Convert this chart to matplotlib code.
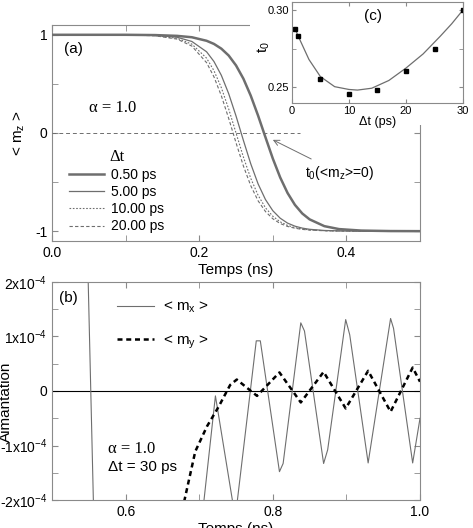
import matplotlib
matplotlib.use("Agg")
import matplotlib.pyplot as plt
from matplotlib.patches import Rectangle
from matplotlib.ticker import MultipleLocator

plt.rcParams.update({
    "font.family": "sans-serif",
    "font.sans-serif": ["Liberation Sans", "DejaVu Sans"],
    "mathtext.fontset": "custom",
    "mathtext.rm": "Liberation Sans",
    "mathtext.it": "Liberation Sans:italic",
    "font.size": 10,
    "axes.edgecolor": "#8a8a8a",
    "xtick.color": "#8a8a8a",
    "ytick.color": "#8a8a8a",
    "xtick.labelcolor": "black",
    "ytick.labelcolor": "black",
    "xtick.direction": "in",
    "ytick.direction": "in",
    "xtick.top": True,
    "ytick.right": True,
})

# ---- panel (a): <m_z> vs time for several time steps ----
t_a = [0, 0.10, 0.14, 0.17, 0.19, 0.21, 0.22, 0.23, 0.24, 0.25, 0.26, 0.27, 0.28,
       0.29, 0.30, 0.31, 0.32, 0.33, 0.34, 0.35, 0.37, 0.39, 0.42, 0.46, 0.50]
mz_050 = [1.0, 1.0, 0.997, 0.989, 0.975, 0.939, 0.907, 0.859, 0.789, 0.688, 0.553, 0.380, 0.176,
          -0.044, -0.261, -0.453, -0.611, -0.732, -0.820, -0.880, -0.949, -0.979, -0.994, -0.999, -1.0]
mz_500 = [1.0, 0.999, 0.994, 0.975, 0.932, 0.827, 0.728, 0.588, 0.401, 0.173, -0.075, -0.314, -0.519,
          -0.678, -0.792, -0.868, -0.918, -0.949, -0.969, -0.981, -0.993, -0.997, -1.0, -1.0, -1.0]
mz_1000 = [1.0, 0.999, 0.992, 0.964, 0.905, 0.762, 0.635, 0.462, 0.245, 0.0, -0.245, -0.462, -0.635,
           -0.762, -0.848, -0.905, -0.941, -0.964, -0.978, -0.987, -0.995, -0.998, -1.0, -1.0, -1.0]
mz_2000 = [1.0, 0.999, 0.990, 0.956, 0.885, 0.716, 0.572, 0.380, 0.149, -0.100, -0.336, -0.537, -0.691,
           -0.800, -0.874, -0.922, -0.952, -0.970, -0.982, -0.989, -0.996, -0.998, -1.0, -1.0, -1.0]

# ---- panel (c): t0 vs dt ----
dt_pts = [0.5, 1, 5, 10, 15, 20, 25, 30]
t0_pts = [0.2877, 0.2831, 0.2552, 0.2455, 0.2481, 0.2604, 0.2751, 0.300]
dt_fit = [0.5, 1, 2, 3, 5, 7.5, 10, 11.5, 14, 17, 20, 23, 26, 28, 30]
t0_fit = [0.2885, 0.284, 0.276, 0.268, 0.257, 0.2505, 0.2487, 0.2483, 0.2495, 0.2545,
          0.2625, 0.2716, 0.283, 0.291, 0.300]

# ---- panel (b): transverse components ----
mx_t = [0.5488, 0.5565, 0.63, 0.700, 0.722, 0.749, 0.7775, 0.783, 0.809, 0.814, 0.838, 0.843,
        0.869, 0.8745, 0.899, 0.9045, 0.9295, 0.960, 0.964, 0.990, 1.0]
mx = [2.2e-4, -2.2e-4, -6e-4, -2.8e-4, -0.09e-4, -2.33e-4, 0.92e-4, 0.92e-4, -1.48e-4, -1.33e-4,
      1.25e-4, 1.10e-4, -1.33e-4, -1.08e-4, 1.31e-4, 1.03e-4, -1.32e-4, 1.33e-4, 1.15e-4,
      -1.32e-4, -0.5e-4]
my_t = [0.672, 0.680, 0.6946, 0.7105, 0.7263, 0.742, 0.751, 0.7785, 0.809, 0.838, 0.869,
        0.899, 0.9295, 0.960, 0.990, 1.0]
my = [-2.5e-4, -2.0e-4, -1.11e-4, -0.65e-4, -0.29e-4, 0.11e-4, 0.21e-4, -0.09e-4, 0.34e-4,
      -0.21e-4, 0.35e-4, -0.32e-4, 0.37e-4, -0.38e-4, 0.43e-4, 0.17e-4]

b_yticks = [-2e-4, -1e-4, 0, 1e-4, 2e-4]
b_yticklabels = ["-2x10$^{-4}$", "-1x10$^{-4}$", "0", "1x10$^{-4}$", "2x10$^{-4}$"]

gray = "#6e6e6e"
serif = ["Liberation Serif", "DejaVu Serif"]

fig = plt.figure(figsize=(4.73, 5.28), dpi=100)
ax_a = fig.add_axes([0.110, 0.5436, 0.778, 0.4091])
ax_b = fig.add_axes([0.110, 0.053, 0.778, 0.413])
ax_c = fig.add_axes([0.617, 0.805, 0.362, 0.191], zorder=3)

# white box behind the inset: hides the frame of (a) there but not its curves
ax_a.add_patch(Rectangle((0.529, 0.763), 0.471, 0.237, transform=fig.transFigure,
                         facecolor="white", edgecolor="none", zorder=2.7, clip_on=False))

# panel (a)
ax_a.plot(t_a, mz_050, color=gray, lw=1.8, label="0.50 ps", zorder=3)
ax_a.plot(t_a, mz_500, color=gray, lw=0.9, label="5.00 ps", zorder=3)
ax_a.plot(t_a, mz_1000, color=gray, lw=0.8, ls=(0, (1.5, 1.5)), label="10.00 ps", zorder=3)
ax_a.plot(t_a, mz_2000, color=gray, lw=0.8, ls=(0, (3, 2)), label="20.00 ps", zorder=3)
ax_a.plot([0, 0.337], [0, 0], color=gray, lw=0.7, ls=(0, (4, 3)), zorder=3)
ax_a.set_xlim(0, 0.5)
ax_a.set_ylim(-1.1, 1.1)
ax_a.xaxis.set_major_locator(MultipleLocator(0.2))
ax_a.xaxis.set_minor_locator(MultipleLocator(0.1))
ax_a.yaxis.set_major_locator(MultipleLocator(1))
ax_a.yaxis.set_minor_locator(MultipleLocator(0.5))
ax_a.tick_params(which="both", length=4)
ax_a.xaxis.set_major_formatter(plt.FuncFormatter(lambda v, p: f"{v:.1f}"))
ax_a.yaxis.set_major_formatter(plt.FuncFormatter(lambda v, p: f"{v:.0f}".replace("\u2212", "-")))
ax_a.set_xlabel("Temps (ns)", fontsize=11, labelpad=2)
ax_a.set_ylabel("< m$_\\mathregular{z}$ >", fontsize=11, labelpad=6)
ax_a.text(0.016, 0.81, "(a)", fontsize=11)
ax_a.text(0.082, 0.25, "\u03b1 = 1.0", family=serif, fontsize=12, ha="center", va="center")
ax_a.legend(loc="upper left", bbox_to_anchor=(0.02, 0.47), frameon=False, fontsize=10,
            handlelength=2.5, handletextpad=0.5, labelspacing=0.22, borderpad=0.2,
            title="\u0394t", title_fontproperties={"family": serif, "size": 12})
ax_a.annotate("t$_\\mathregular{0}$(<m$_\\mathregular{z}$>=0)", xy=(0.300, -0.07),
              xytext=(0.344, -0.41), fontsize=10, va="center",
              arrowprops=dict(arrowstyle="->", color=gray, lw=0.7, shrinkA=4, shrinkB=0))

# panel (c) inset
ax_c.plot(dt_fit, t0_fit, color=gray, lw=0.9)
ax_c.plot(dt_pts, t0_pts, "s", color="black", ms=3)
ax_c.set_xlim(0, 30)
ax_c.set_ylim(0.24, 0.305)
ax_c.xaxis.set_major_locator(MultipleLocator(10))
ax_c.yaxis.set_major_locator(MultipleLocator(0.05))
ax_c.yaxis.set_minor_locator(MultipleLocator(0.025))
ax_c.tick_params(which="both", labelsize=8, length=3, pad=2)
ax_c.yaxis.set_major_formatter(plt.FuncFormatter(lambda v, p: f"{v:.2f}"))
ax_c.set_xlabel("\u0394t (ps)", fontsize=9, labelpad=0)
ax_c.set_ylabel("t$_\\mathregular{0}$", fontsize=11)
ax_c.yaxis.set_label_coords(-0.115, 0.55)
ax_c.text(0.42, 0.82, "(c)", transform=ax_c.transAxes, fontsize=11)

# panel (b)
ax_b.axhline(0, color="black", lw=0.8)
ax_b.plot(mx_t, mx, color=gray, lw=0.8, label="< m$_\\mathregular{x}$ >")
ax_b.plot(my_t, my, color="black", lw=1.8, ls=(0, (2, 1.5)), label="< m$_\\mathregular{y}$ >")
ax_b.set_xlim(0.5, 1.0)
ax_b.set_ylim(-2e-4, 2e-4)
ax_b.xaxis.set_major_locator(MultipleLocator(0.2))
ax_b.xaxis.set_minor_locator(MultipleLocator(0.1))
ax_b.set_yticks(b_yticks)
ax_b.set_yticklabels(b_yticklabels)
ax_b.yaxis.set_minor_locator(MultipleLocator(0.5e-4))
ax_b.tick_params(which="both", length=4)
ax_b.xaxis.set_major_formatter(plt.FuncFormatter(lambda v, p: f"{v:.1f}"))
ax_b.set_xlabel("Temps (ns)", fontsize=11, labelpad=2)
ax_b.set_ylabel("Aimantation", fontsize=11)
ax_b.yaxis.set_label_coords(-0.105, 0.45)
ax_b.text(0.51, 1.7e-4, "(b)", fontsize=11, va="center")
ax_b.text(0.576, -1.07e-4, "\u03b1 = 1.0", family=serif, fontsize=12, va="center")
ax_b.text(0.576, -1.4e-4, "\u0394t = 30 ps", fontsize=11, va="center")
ax_b.legend(loc="upper left", bbox_to_anchor=(0.14, 0.98), frameon=False, fontsize=11,
            handlelength=2.4, handletextpad=0.6, labelspacing=1.2)

fig.savefig("out.png", dpi=100)
